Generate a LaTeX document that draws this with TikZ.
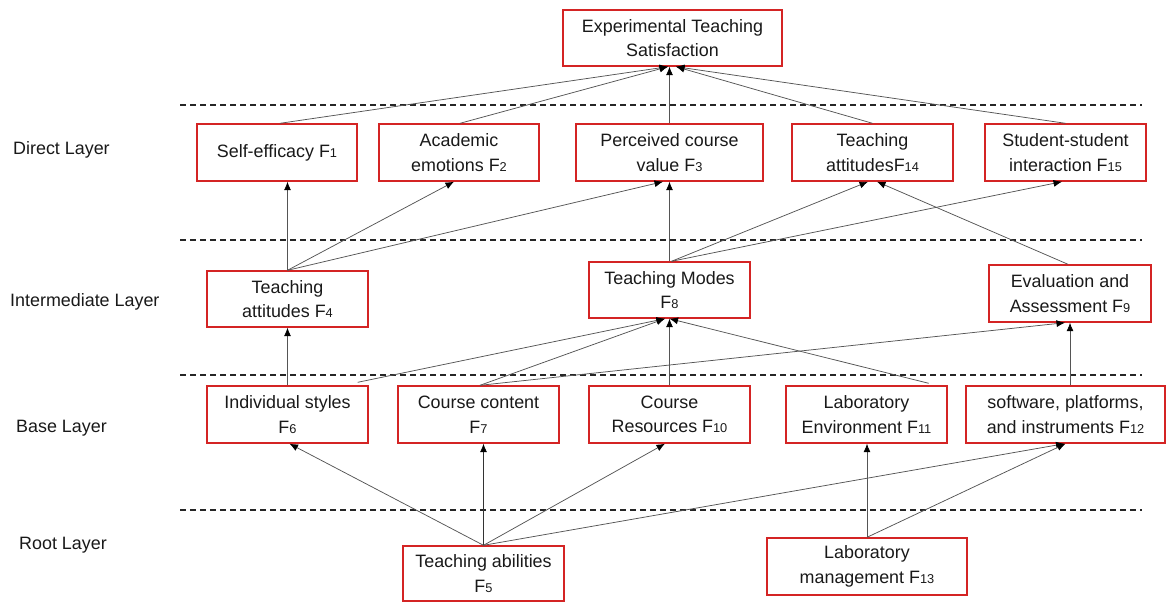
\documentclass[tikz,border=0pt]{standalone}
\usepackage{fontspec}
\setmainfont{Liberation Sans}
\usetikzlibrary{arrows.meta,calc}
\definecolor{boxred}{RGB}{212,36,36}
\definecolor{linegray}{RGB}{85,85,85}
\definecolor{txt}{RGB}{25,25,25}
\newcommand{\fsub}[1]{{\fontsize{12.8}{12.8}\selectfont #1}}
\tikzset{
  fbox/.style={draw=boxred, line width=1.4pt, inner sep=0pt, align=center,
    text=txt, font=\fontsize{17.9}{24.5}\selectfont,
    minimum height=57pt, minimum width=161pt},
  arr/.style={draw=linegray, line width=0.75pt,
    -{Latex[length=8.5pt,width=7pt,color=black]}},
  layerline/.style={draw=black!85, line width=1.4pt, dash pattern=on 6pt off 4pt},
  lab/.style={anchor=west, inner sep=0pt, text=txt, font=\fontsize{17.9}{20}\selectfont}
}
\begin{document}
\begin{tikzpicture}[x=1pt,y=-1pt]
\useasboundingbox (0,0) rectangle (1166,602);

% layer separators
\draw[layerline] (180,105) -- (1142,105);
\draw[layerline] (180,240) -- (1142,240);
\draw[layerline] (180,375) -- (1142,375);
\draw[layerline] (180,510) -- (1142,510);

% layer labels
\node[lab] (ldirect) at (13,150) {Direct Layer};
\node[lab] (linter) at (10,302) {Intermediate Layer};
\node[lab] (lbase) at (16,428) {Base Layer};
\node[lab] (lroot) at (19,545) {Root Layer};

% boxes
\node[fbox, minimum width=219pt, minimum height=56pt] (top) at (672.5,38) {Experimental Teaching\\Satisfaction};

\node[fbox, minimum width=160pt] (f1) at (277,152.5) {Self-efficacy F\fsub{1}};
\node[fbox, minimum width=160pt] (f2) at (459,152.5) {Academic\\emotions F\fsub{2}};
\node[fbox, minimum width=187pt] (f3) at (669.5,152.5) {Perceived course\\value F\fsub{3}};
\node[fbox] (f14) at (872.5,152.5) {Teaching\\attitudesF\fsub{14}};
\node[fbox] (f15) at (1065.5,152.5) {Student-student\\interaction F\fsub{15}};

\node[fbox, minimum height=56pt] (f4) at (287.5,299) {Teaching\\attitudes F\fsub{4}};
\node[fbox, minimum height=56pt] (f8) at (669.5,290) {Teaching Modes\\F\fsub{8}};
\node[fbox, minimum width=162pt] (f9) at (1070,293.5) {Evaluation and\\Assessment F\fsub{9}};

\node[fbox] (f6) at (287.5,414.5) {Individual styles\\F\fsub{6}};
\node[fbox] (f7) at (478.5,414.5) {Course content\\F\fsub{7}};
\node[fbox] (f10) at (669.5,414.5) {Course\\Resources F\fsub{10}};
\node[fbox] (f11) at (866.5,414.5) {Laboratory\\Environment F\fsub{11}};
\node[fbox, minimum width=199pt] (f12) at (1065.5,414.5) {software, platforms,\\and instruments F\fsub{12}};

\node[fbox, minimum height=55pt] (f5) at (483.5,573.5) {Teaching abilities\\F\fsub{5}};
\node[fbox, minimum width=200pt] (f13) at (867,566.5) {Laboratory\\management F\fsub{13}};

% direct layer -> satisfaction
\draw[arr] ([xshift=3pt]f1.north) -- ([xshift=-4.5pt]top.south);
\draw[arr] ([xshift=1pt]f2.north) -- ([xshift=-4.5pt]top.south);
\draw[arr] (f3.north) -- (f3.north |- top.south);
\draw[arr] (f14.north) -- ([xshift=3.5pt]top.south);
\draw[arr] (f15.north) -- ([xshift=3.5pt]top.south);

% intermediate -> direct
\draw[arr] (f4.north) -- (f4.north |- f1.south);
\draw[arr] (f4.north) -- ([xshift=-5pt]f2.south);
\draw[arr] (f4.north) -- ([xshift=-6.5pt]f3.south);
\draw[arr] (f8.north) -- (f8.north |- f3.south);
\draw[arr] ([xshift=2pt]f8.north) -- ([xshift=-4.5pt]f14.south);
\draw[arr] ([xshift=2pt]f8.north) -- ([xshift=-3.5pt]f15.south);
\draw[arr] ([xshift=-2pt]f9.north) -- ([xshift=4.5pt]f14.south);

% base -> intermediate
\draw[arr] (f6.north) -- (f6.north |- f4.south);
\draw[arr] ([xshift=-11pt,yshift=3pt]f6.north east) -- ([xshift=-4.5pt]f8.south);
\draw[arr] ([xshift=1.5pt]f7.north) -- ([xshift=-4.5pt]f8.south);
\draw[arr] ([xshift=1.5pt]f7.north) -- ([xshift=-5pt]f9.south);
\draw[arr] (f10.north) -- (f10.north |- f8.south);
\draw[arr] ([xshift=-19pt,yshift=2pt]f11.north east) -- ([xshift=0pt]f8.south);
\draw[arr] (f9.south |- f12.north) -- (f9.south);

% root -> base
\draw[arr] (f5.north) -- ([xshift=2pt]f6.south);
\draw[arr, draw=black!80] (f5.north) -- (f5.north |- f7.south);
\draw[arr] (f5.north) -- ([xshift=-4.5pt]f10.south);
\draw[arr] (f5.north) -- ([xshift=-1pt]f12.south);
\draw[arr] (f13.north) -- (f13.north |- f11.south);
\draw[arr] (f13.north) -- (f12.south);
\end{tikzpicture}
\end{document}
